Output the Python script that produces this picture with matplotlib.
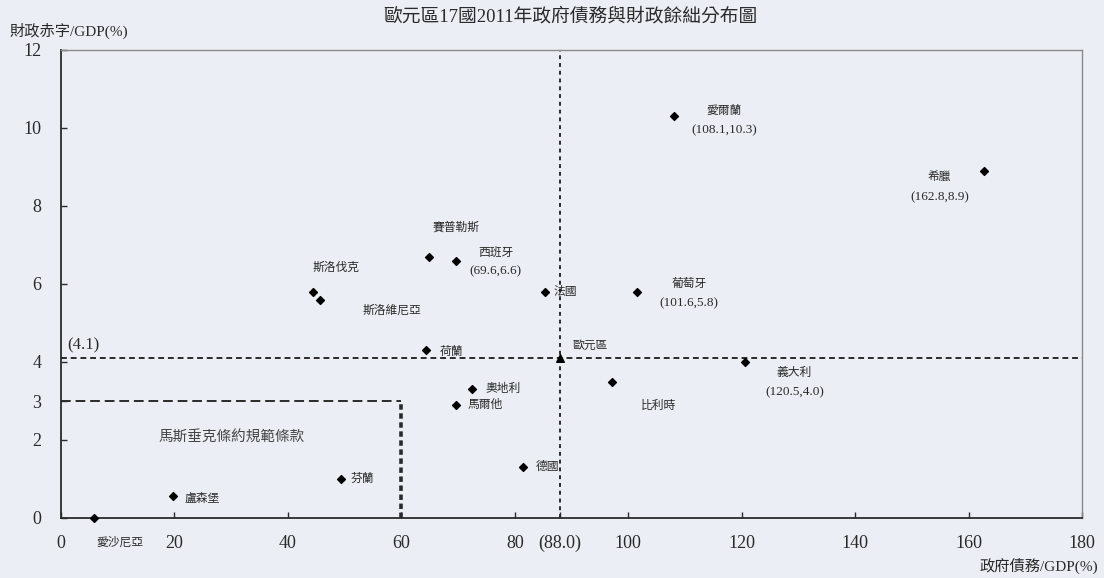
import matplotlib
matplotlib.use('Agg')
import matplotlib.pyplot as plt

plt.rcParams['font.family'] = ['Liberation Serif', 'Noto Sans CJK TC', 'DejaVu Sans']

# Data: government debt / GDP (%) and deficit / GDP (%), 2011
countries = ['愛沙尼亞', '盧森堡', '芬蘭', '德國', '馬爾他', '奧地利', '荷蘭', '比利時',
             '義大利', '葡萄牙', '希臘', '愛爾蘭', '西班牙', '賽普勒斯', '斯洛伐克',
             '斯洛維尼亞', '法國']
debt = [5.8, 19.7, 49.3, 81.5, 69.7, 72.4, 64.3, 97.2,
        120.5, 101.6, 162.8, 108.1, 69.6, 64.8, 44.5, 45.7, 85.4]
deficit = [0.0, 0.56, 1.0, 1.3, 2.9, 3.3, 4.3, 3.5,
           4.0, 5.8, 8.9, 10.3, 6.6, 6.7, 5.8, 5.6, 5.8]
show_coords = ['義大利', '葡萄牙', '希臘', '愛爾蘭', '西班牙']

euro_name = '歐元區'
euro_debt = 88.0
euro_deficit = 4.1

maastricht_debt = 60
maastricht_deficit = 3

xticks = [0, 20, 40, 60, 80, 88, 100, 120, 140, 160, 180]
xticklabels = ['0', '20', '40', '60', '80', '(88.0)', '100', '120', '140', '160', '180']
yticks = [0, 2, 3, 4, 6, 8, 10, 12]

# label placement (offset in pixels from the point, horizontal alignment)
label_pos = {
    '愛沙尼亞': (26, -25, 'center'),
    '盧森堡': (12, -3, 'left'),
    '芬蘭': (10, 0, 'left'),
    '德國': (12, 0, 'left'),
    '馬爾他': (11, 0, 'left'),
    '奧地利': (14, 0, 'left'),
    '荷蘭': (14, -2, 'left'),
    '比利時': (46, -24, 'center'),
    '義大利': (50, -20, 'center'),
    '葡萄牙': (52, -1, 'center'),
    '希臘': (-45, -16, 'center'),
    '愛爾蘭': (50, -4, 'center'),
    '西班牙': (40, -1, 'center'),
    '賽普勒斯': (28, 29, 'center'),
    '斯洛伐克': (23, 24, 'center'),
    '斯洛維尼亞': (72, -11, 'center'),
    '法國': (8, 0, 'left'),
}

bg = '#ebeef4'
ink = '#2a2a2a'

fig = plt.figure(figsize=(11.04, 5.78), dpi=100, facecolor=bg)
ax = fig.add_axes([61 / 1104, 1 - 518 / 578, (1082 - 61) / 1104, (518 - 50) / 578])
ax.set_facecolor(bg)
ax.set_xlim(0, 180)
ax.set_ylim(0, 12)

# reference lines
ax.axhline(euro_deficit, color=ink, lw=1.4, ls=(0, (3, 2)), zorder=1)
ax.plot([euro_debt, euro_debt], [0, 12], color=ink, lw=1.4, ls=(0, (2, 2)), zorder=1)
ax.plot([0, maastricht_debt], [maastricht_deficit, maastricht_deficit],
        color=ink, lw=1.4, ls=(0, (5, 2.5)), zorder=1)
ax.plot([maastricht_debt, maastricht_debt], [0, maastricht_deficit],
        color=ink, lw=2.6, ls=(0, (1.5, 1)), zorder=1)
ax.text(30, 2.05, '馬斯垂克條約規範條款', ha='center', va='center',
        fontsize=10.5, color='#444444', family=['Noto Sans CJK TC'])

# points
ax.scatter(debt, deficit, marker='D', s=16, color='black', zorder=3, clip_on=False)
ax.scatter([euro_debt], [euro_deficit], marker='^', s=30, color='black', zorder=3)

for name, x, y in zip(countries, debt, deficit):
    dx, dy, ha = label_pos[name]
    ax.annotate(name, (x, y), xytext=(dx, dy + (9 if name in show_coords else 0)),
                textcoords='offset pixels', ha=ha, va='center', fontsize=8.5,
                color=ink, annotation_clip=False)
    if name in show_coords:
        ax.annotate(f'({x},{y})', (x, y), xytext=(dx, dy - 10),
                    textcoords='offset pixels', ha=ha, va='center', fontsize=9.5,
                    color=ink, annotation_clip=False)

ax.annotate(euro_name, (euro_debt, euro_deficit), xytext=(12, 12),
            textcoords='offset pixels', ha='left', va='center', fontsize=8.5, color=ink)
ax.annotate(f'({euro_deficit})', (0, euro_deficit), xytext=(6, 13),
            textcoords='offset pixels', ha='left', va='center', fontsize=12, color=ink)

# axes styling
ax.set_xticks(xticks)
ax.set_xticklabels(xticklabels)
ax.set_yticks(yticks)
ax.tick_params(axis='both', direction='in', length=4, width=1, colors=ink, labelsize=13)
ax.tick_params(axis='x', pad=12)
ax.tick_params(axis='y', pad=14)
for side in ['left', 'bottom']:
    ax.spines[side].set_color(ink)
    ax.spines[side].set_linewidth(1.3)
for side in ['top', 'right']:
    ax.spines[side].set_color('#8a8a8a')
    ax.spines[side].set_linewidth(1.0)

fig.text(0.517, 1 - 17 / 578, '歐元區17國2011年政府債務與財政餘絀分布圖',
         ha='center', va='center', fontsize=13.5, color=ink)
fig.text(10 / 1104, 1 - 31 / 578, '財政赤字/GDP(%)', ha='left', va='center',
         fontsize=11, color=ink)
fig.text(1098 / 1104, 1 - 566 / 578, '政府債務/GDP(%)', ha='right', va='center',
         fontsize=11, color=ink)

fig.savefig('out.png', dpi=100, facecolor=bg)
